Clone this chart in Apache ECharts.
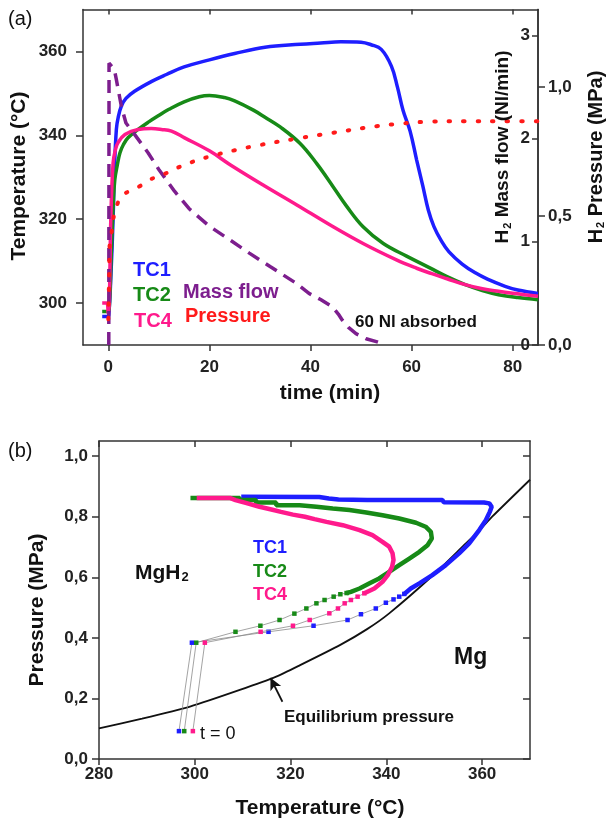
<!DOCTYPE html>
<html>
<head>
<meta charset="utf-8">
<script src="https://cdn.jsdelivr.net/npm/echarts@6/dist/echarts.min.js"></script>
<style>html,body{margin:0;padding:0;background:#fff;}#c{width:608px;height:822px;}</style>
</head>
<body>
<div id="c"></div>
<script>
// ---------- Panel (a): temperature / mass flow / pressure vs time ----------
const timeTicks = [0, 20, 40, 60, 80];
const tempTicks = [300, 320, 340, 360];
const flowTicks = [0, 1, 2, 3];
const pressTicksA = [0, 0.5, 1.0];

const tc1Curve = [[-1.2,296.8],[-0.1,296.8],[0.1,297.2],[0.5,306],[0.95,320],[1.2,331],[1.6,341.4],[2.0,344.5],[2.6,347],[3.5,348.8],[5.2,350.5],[8.5,352.8],[11.5,354.5],[15,356.3],[20,358],[25,359.5],[31,361],[38,361.7],[42,362],[46,362.3],[50,362.2],[52,361.6],[54,360.5],[56,356.5],[57.2,351.5],[58.3,346],[59.7,341],[61,334.1],[62.2,328],[63.3,322.2],[64.4,318.3],[65.8,315],[67.4,312.2],[70,309.3],[72.6,307.2],[75,305.7],[78.5,304],[81,303.1],[85,302.3]];
const tc2Curve = [[-1.2,298],[-0.1,298],[0.2,299],[0.6,312],[1.0,324],[1.3,329.5],[1.8,333],[2.3,335.8],[3.0,337.8],[3.9,339.4],[5.9,341.4],[8,343.2],[9.8,344.6],[12,346.2],[15,348],[18,349.2],[20,349.5],[23,349],[25,348.2],[28.7,346],[31,344.3],[34,342],[37.9,338.1],[41.2,333.3],[44.5,327.7],[47.2,323],[50.4,318.2],[54.4,314.2],[59,311.2],[63.6,308.4],[67,306.3],[70.6,304.4],[74,303],[77.2,302],[81,301.3],[85,300.8]];
const tc4Curve = [[-1.2,300],[-0.3,300],[0,297.5],[0.2,300],[0.5,320],[0.95,333.4],[1.4,336.5],[1.9,338.2],[3.3,340.2],[5.9,341.4],[8.5,341.6],[10.5,341.4],[12.5,341],[15.1,339.4],[20,336.3],[24.1,333],[30.7,328.1],[37.3,323.4],[43.9,318.6],[50.4,314.2],[57,310.3],[61,308.3],[64,307],[67,305.8],[70.6,304.4],[74,303.4],[77.2,302.8],[81,302.2],[85,301.6]];
const massFlow = [[0.1,0],[0.15,2.73],[1.2,2.67],[1.6,2.57],[2.6,2.31],[3.5,2.15],[5.2,2.04],[7.9,1.86],[10,1.7],[13.1,1.49],[16,1.32],[20,1.15],[24,1.02],[27.9,0.89],[32,0.76],[37.1,0.6],[39.7,0.5],[42,0.44],[44.3,0.37],[45.5,0.3],[46.3,0.24],[47.5,0.17],[49,0.11],[51,0.06],[53.2,0.03],[53.8,0.02]];
const pressureA = [[0,0.1],[0.15,0.25],[0.3,0.4],[0.6,0.43],[1.3,0.515],[2.6,0.574],[4.5,0.6],[6.2,0.615],[7.9,0.638],[10.8,0.66],[13.5,0.685],[16,0.705],[20,0.73],[25.1,0.755],[30,0.775],[37.3,0.8],[44.3,0.822],[53.1,0.848],[58,0.858],[63,0.865],[70.6,0.867],[77,0.867],[85,0.867]];

// ---------- Panel (b): pressure vs temperature ----------
const tempTicksB = [280, 300, 320, 340, 360];
const pressTicksB = [0, 0.2, 0.4, 0.6, 0.8, 1.0];
const eqCurve = [[280,0.101],[289,0.133],[299,0.173],[309.4,0.228],[317,0.272],[322,0.31],[330.3,0.376],[335.9,0.428],[340.6,0.481],[349.7,0.606],[356.6,0.712],[359.5,0.756],[362.1,0.8],[370,0.922]];
const arrowFrom = [318.3, 0.189];
const arrowTo = [315.8, 0.268];

const tc1Sparse = [[296.7,0.092],[299.4,0.384],[315.4,0.42],[324.8,0.44],[331.9,0.459],[334.7,0.478],[337.8,0.497],[339.9,0.516],[341.5,0.527],[342.7,0.536],[343.75,0.545]];
const tc1Dense = [[343.75,0.545],[345.1,0.563],[346.9,0.58],[349.6,0.607],[352.4,0.64],[355.2,0.679],[357.3,0.712],[359.4,0.756],[360.8,0.789],[361.6,0.816],[362,0.833],[361.5,0.844],[360.4,0.847],[352,0.848],[351.7,0.855],[336,0.855],[330,0.857],[328,0.86],[326,0.865],[309.7,0.866]];
const tc2Sparse = [[297.8,0.092],[300.3,0.384],[308.5,0.42],[313.7,0.44],[317.7,0.459],[320.8,0.48],[323.3,0.497],[325.4,0.514],[327.1,0.525],[329,0.536],[330.4,0.544],[331.7,0.548]];
const tc2Dense = [[331.7,0.548],[332.6,0.552],[334.4,0.563],[336.5,0.58],[338.5,0.596],[340.6,0.618],[342.7,0.64],[344.8,0.662],[346.9,0.684],[348.6,0.706],[349.5,0.728],[349.3,0.75],[348.2,0.767],[346.2,0.78],[342.7,0.794],[339.2,0.805],[335.8,0.814],[332.3,0.822],[328.8,0.827],[325.4,0.833],[321.9,0.838],[317,0.838],[317,0.847],[312.8,0.847],[312.8,0.855],[309.4,0.855],[309.4,0.862],[299.1,0.862]];
const tc4Sparse = [[299.6,0.092],[302.1,0.384],[313.75,0.42],[320.5,0.44],[324,0.459],[328.1,0.481],[329.9,0.497],[331.3,0.514],[332.6,0.525],[334,0.536],[335.4,0.547]];
const tc4Dense = [[335.4,0.547],[337.5,0.563],[339.2,0.585],[340.3,0.607],[341.2,0.635],[341.5,0.657],[341.3,0.679],[340.6,0.701],[339.2,0.717],[337.1,0.739],[334.4,0.756],[330.9,0.772],[327.5,0.783],[325,0.792],[323,0.8],[320.5,0.807],[318,0.816],[316,0.824],[313.5,0.833],[311,0.844],[308.5,0.855],[307.3,0.862],[300.4,0.862]];

// ---------- styling ----------
const FONT = '"Liberation Sans", Arial, Helvetica, sans-serif';
const C_TC1 = '#1e1eff', C_TC2 = '#178a17', C_TC4 = '#ff1a8c', C_FLOW = '#7d1e8e', C_PRESS = '#ff1a1a';
const AX = '#333';
const comma = v => v.toFixed(1).replace('.', ',');

function axisBase(extra) {
  return Object.assign({
    type: 'value', splitLine: {show: false},
    axisLine: {show: true, onZero: false, lineStyle: {color: AX, width: 1.5}},
    axisTick: {show: true, lineStyle: {color: AX, width: 1.5}},
    axisLabel: {color: '#222', fontFamily: FONT, fontWeight: 'bold', fontSize: 17}
  }, extra);
}

const chart = echarts.init(document.getElementById('c'), null, {renderer: 'canvas'});

function txt(x, y, text, o) {
  o = o || {};
  return {
    type: 'text', x: x, y: y, rotation: o.rot || 0, z: 100,
    style: {
      text: text, fill: o.color || '#111',
      font: (o.weight || 'bold') + ' ' + (o.size || 20) + 'px ' + FONT,
      fontFamily: FONT, fontSize: o.size || 20, fontWeight: o.weight || 'bold',
      textAlign: o.align || 'left', textVerticalAlign: 'middle',
      align: o.align || 'left', verticalAlign: 'middle',
      rich: o.rich
    }
  };
}
function subRich(size, sub) {
  return {
    m: {fontSize: size, fontWeight: 'bold', fontFamily: FONT, fill: '#111'},
    s: {fontSize: sub, fontWeight: 'bold', fontFamily: FONT, fill: '#111', padding: [Math.round(size*0.45), 0, 0, 1]}
  };
}

const option = {
  animation: false,
  backgroundColor: '#fff',
  grid: [
    {left: 83, top: 9.5, width: 455, height: 335.5},
    {left: 99, top: 441, width: 431, height: 318}
  ],
  xAxis: [
    axisBase({gridIndex: 0, min: -5, max: 85, position: 'bottom',
      axisTick: {show: true, length: 6, customValues: timeTicks, lineStyle: {color: AX, width: 1.5}},
      axisLabel: {customValues: timeTicks, margin: 14, color: '#222', fontFamily: FONT, fontWeight: 'bold', fontSize: 17}}),
    axisBase({gridIndex: 0, min: -5, max: 85, position: 'top',
      axisTick: {show: true, inside: true, length: 5, customValues: timeTicks, lineStyle: {color: AX, width: 1.5}},
      axisLabel: {show: false}}),
    axisBase({gridIndex: 1, min: 280, max: 370, position: 'bottom',
      axisTick: {show: true, length: 6, customValues: tempTicksB, lineStyle: {color: AX, width: 1.5}},
      axisLabel: {customValues: tempTicksB, margin: 7, color: '#222', fontFamily: FONT, fontWeight: 'bold', fontSize: 17}}),
    axisBase({gridIndex: 1, min: 280, max: 370, position: 'top',
      axisTick: {show: true, inside: true, length: 6, customValues: tempTicksB, lineStyle: {color: AX, width: 1.5}},
      axisLabel: {show: false}})
  ],
  yAxis: [
    axisBase({gridIndex: 0, min: 290, max: 370, position: 'left',
      axisTick: {show: true, length: 7, customValues: tempTicks, lineStyle: {color: AX, width: 1.5}},
      axisLabel: {customValues: tempTicks, margin: 16, color: '#222', fontFamily: FONT, fontWeight: 'bold', fontSize: 17}}),
    axisBase({gridIndex: 0, min: 0, max: 3.25, position: 'right',
      axisTick: {show: true, inside: true, length: 6, customValues: flowTicks, lineStyle: {color: AX, width: 1.5}},
      axisLabel: {customValues: flowTicks, inside: true, margin: 8, padding: [0, 0, 10, 0], color: '#222', fontFamily: FONT, fontWeight: 'bold', fontSize: 17}}),
    axisBase({gridIndex: 0, min: 0, max: 1.3, position: 'right',
      axisTick: {show: true, length: 7, customValues: pressTicksA, lineStyle: {color: AX, width: 1.5}},
      axisLabel: {customValues: pressTicksA, margin: 10, formatter: comma, color: '#222', fontFamily: FONT, fontWeight: 'bold', fontSize: 17}}),
    axisBase({gridIndex: 1, min: 0, max: 1.05, position: 'left',
      axisTick: {show: true, length: 7, customValues: pressTicksB, lineStyle: {color: AX, width: 1.5}},
      axisLabel: {customValues: pressTicksB, margin: 11, formatter: comma, color: '#222', fontFamily: FONT, fontWeight: 'bold', fontSize: 17}}),
    axisBase({gridIndex: 1, min: 0, max: 1.05, position: 'right',
      axisTick: {show: true, inside: true, length: 7, customValues: pressTicksB, lineStyle: {color: AX, width: 1.5}},
      axisLabel: {show: false}})
  ],
  series: [
    {name: 'TC1', type: 'line', xAxisIndex: 0, yAxisIndex: 0, data: tc1Curve, showSymbol: false, smooth: 0.4,
      lineStyle: {color: C_TC1, width: 3.5}, z: 2},
    {name: 'TC2', type: 'line', xAxisIndex: 0, yAxisIndex: 0, data: tc2Curve, showSymbol: false, smooth: 0.4,
      lineStyle: {color: C_TC2, width: 3.5}, z: 3},
    {name: 'TC4', type: 'line', xAxisIndex: 0, yAxisIndex: 0, data: tc4Curve, showSymbol: false, smooth: 0.4,
      lineStyle: {color: C_TC4, width: 3.5}, z: 4},
    {name: 'Mass flow', type: 'line', xAxisIndex: 0, yAxisIndex: 1, data: massFlow, showSymbol: false,
      lineStyle: {color: C_FLOW, width: 3.5, type: [13, 8]}, z: 5},
    {name: 'Pressure', type: 'line', xAxisIndex: 0, yAxisIndex: 2, data: pressureA, showSymbol: false, smooth: 0.4,
      lineStyle: {color: C_PRESS, width: 4, type: [1.5, 13], cap: 'round'}, z: 6},

    {name: 'Equilibrium', type: 'line', xAxisIndex: 2, yAxisIndex: 3, data: eqCurve, showSymbol: false, smooth: 0.2,
      lineStyle: {color: '#111', width: 1.8}, z: 2,
      markLine: {silent: true, symbol: ['none', 'arrow'], symbolSize: [9, 12], label: {show: false},
        lineStyle: {color: '#111', width: 1.8, type: 'solid'},
        data: [[{coord: arrowFrom}, {coord: arrowTo}]]}},
    {name: 'TC1b', type: 'line', xAxisIndex: 2, yAxisIndex: 3, data: tc1Sparse, symbol: 'rect', symbolSize: 4.5, showAllSymbol: true,
      itemStyle: {color: C_TC1}, lineStyle: {color: '#8c8c8c', width: 0.8}, z: 3},
    {name: 'TC1d', type: 'line', xAxisIndex: 2, yAxisIndex: 3, data: tc1Dense, showSymbol: false,
      lineStyle: {color: C_TC1, width: 4.5}, z: 3},
    {name: 'TC2b', type: 'line', xAxisIndex: 2, yAxisIndex: 3, data: tc2Sparse, symbol: 'rect', symbolSize: 4.5, showAllSymbol: true,
      itemStyle: {color: C_TC2}, lineStyle: {color: '#8c8c8c', width: 0.8}, z: 4},
    {name: 'TC2d', type: 'line', xAxisIndex: 2, yAxisIndex: 3, data: tc2Dense, showSymbol: false,
      lineStyle: {color: C_TC2, width: 4.5}, z: 4},
    {name: 'TC4b', type: 'line', xAxisIndex: 2, yAxisIndex: 3, data: tc4Sparse, symbol: 'rect', symbolSize: 4.5, showAllSymbol: true,
      itemStyle: {color: C_TC4}, lineStyle: {color: '#8c8c8c', width: 0.8}, z: 5},
    {name: 'TC4d', type: 'line', xAxisIndex: 2, yAxisIndex: 3, data: tc4Dense, showSymbol: false,
      lineStyle: {color: C_TC4, width: 4.5}, z: 5}
  ],
  graphic: [
    // panel (a)
    txt(8, 19, '(a)', {weight: 'normal', size: 20}),
    txt(19.5, 176, 'Temperature (°C)', {rot: Math.PI/2, align: 'center', size: 21}),
    txt(330, 393, 'time (min)', {align: 'center', size: 21}),
    txt(503, 147, '{m|H}{s|2}{m| Mass flow (Nl/min)}', {rot: Math.PI/2, align: 'center', size: 19, rich: subRich(19, 11)}),
    txt(596, 157, '{m|H}{s|2}{m| Pressure (MPa)}', {rot: Math.PI/2, align: 'center', size: 20, rich: subRich(20, 11)}),
    txt(133, 270, 'TC1', {color: C_TC1, size: 20}),
    txt(133, 295, 'TC2', {color: C_TC2, size: 20}),
    txt(134, 321, 'TC4', {color: C_TC4, size: 20}),
    txt(183, 292, 'Mass flow', {color: C_FLOW, size: 20}),
    txt(185, 316, 'Pressure', {color: C_PRESS, size: 20}),
    txt(355, 322, '60 Nl absorbed', {size: 17}),
    // panel (b)
    txt(8, 451, '(b)', {weight: 'normal', size: 20}),
    txt(37.5, 610, 'Pressure (MPa)', {rot: Math.PI/2, align: 'center', size: 21}),
    txt(320, 808, 'Temperature (°C)', {align: 'center', size: 21}),
    txt(135, 573, '{m|MgH}{s|2}', {size: 21, rich: subRich(21, 13)}),
    txt(253, 548, 'TC1', {color: C_TC1, size: 18}),
    txt(253, 572, 'TC2', {color: C_TC2, size: 18}),
    txt(253, 595, 'TC4', {color: C_TC4, size: 18}),
    txt(454, 658, 'Mg', {size: 23}),
    txt(284, 717, 'Equilibrium pressure', {size: 17}),
    txt(200, 734, 't = 0', {weight: 'normal', size: 18})
  ]
};
chart.setOption(option);
</script>
</body>
</html>
